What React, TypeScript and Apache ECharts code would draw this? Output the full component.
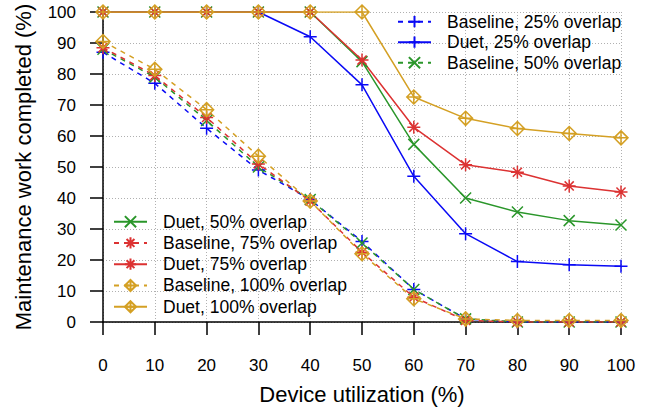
import React, { useEffect, useRef } from "react";
import * as echarts from "echarts";

const xValues = [0, 10, 20, 30, 40, 50, 60, 70, 80, 90, 100];
const baseline25 = [87, 77, 62.5, 49, 39.5, 26, 10.5, 1, 0, 0, 0];
const duet25 = [100, 100, 100, 100, 92, 76.5, 47, 28.5, 19.5, 18.5, 18];
const baseline50 = [88, 79, 65, 50, 39.5, 25.5, 10.5, 1, 0, 0, 0];
const duet50 = [100, 100, 100, 100, 100, 84, 57.3, 40, 35.5, 32.7, 31.3];
const baseline75 = [88.5, 79.5, 66, 51, 39, 22.5, 8, 0.5, 0, 0, 0];
const duet75 = [100, 100, 100, 100, 100, 84.5, 62.8, 50.7, 48.3, 43.9, 41.9];
const baseline100 = [90.5, 81.5, 68.5, 53.5, 39, 22, 7.5, 1, 0.5, 0.5, 0.5];
const duet100 = [100, 100, 100, 100, 100, 100, 72.6, 65.7, 62.4, 60.8, 59.4];

const seriesNames = [
  "Baseline, 25% overlap",
  "Duet, 25% overlap",
  "Baseline, 50% overlap",
  "Duet, 50% overlap",
  "Baseline, 75% overlap",
  "Duet, 75% overlap",
  "Baseline, 100% overlap",
  "Duet, 100% overlap",
];

const BLUE = "#0a0af5";
const GREEN = "#2a962a";
const RED = "#dc3232";
const GOLD = "#d4a024";

const PLUS = "path://M0 -1 L0 1 M-1 0 L1 0";
const CROSS = "path://M-1 -1 L1 1 M1 -1 L-1 1";
const STAR = "path://M0 -1 L0 1 M-1 0 L1 0 M-0.7 -0.7 L0.7 0.7 M0.7 -0.7 L-0.7 0.7";
const DIAMOND = "path://M0 -1 L1 0 L0 1 L-1 0 Z M0 -1 L0 1 M-1 0 L1 0";

const FONT = "Liberation Sans, Arial, sans-serif";

function mk(name: string, vals: number[], color: string, symbol: string, dashed: boolean, size: number) {
  return {
    name,
    type: "line",
    data: xValues.map((x, i) => [x, vals[i]]),
    symbol,
    symbolSize: size,
    showAllSymbol: true,
    color,
    lineStyle: { color, width: 1.5, type: dashed ? [5, 5] : "solid" },
    itemStyle: { color: "rgba(0,0,0,0)", borderColor: color, borderWidth: 1.5 },
    emphasis: { disabled: true },
  };
}

export default function App() {
  const ref = useRef<HTMLDivElement>(null);
  useEffect(() => {
    if (!ref.current) return;
    const chart = echarts.init(ref.current, undefined, { renderer: "svg" });
    const legendText = {
      fontFamily: FONT,
      fontSize: 17.5,
      color: "#000",
      padding: [0, 0, 0, 11],
    };
    chart.setOption({
      animation: false,
      textStyle: { fontFamily: FONT },
      grid: { left: 103, right: 33, top: 12, bottom: 88 },
      legend: [
        {
          data: seriesNames.slice(0, 3),
          orient: "vertical",
          left: 397,
          top: 12.7,
          padding: 0,
          itemWidth: 33,
          itemHeight: 14,
          itemGap: 2.5,
          textStyle: legendText,
          selectedMode: false,
        },
        {
          data: seriesNames.slice(3),
          orient: "vertical",
          left: 113,
          top: 212.7,
          padding: 0,
          itemWidth: 33,
          itemHeight: 14,
          itemGap: 3.25,
          textStyle: legendText,
          selectedMode: false,
        },
      ],
      xAxis: {
        type: "value",
        min: 0,
        max: 100,
        interval: 10,
        name: "Device utilization (%)",
        nameLocation: "middle",
        nameGap: 61,
        nameTextStyle: { fontSize: 22, color: "#000", fontFamily: FONT },
        axisLine: { show: true, lineStyle: { color: "#000", width: 1.5 } },
        axisTick: { show: true, length: 13, lineStyle: { color: "#000", width: 1.5 } },
        axisLabel: { fontSize: 17, color: "#000", margin: 35, fontFamily: FONT },
        splitLine: { show: true, lineStyle: { color: "#b0b0b0", type: [1, 2], width: 1 } },
      },
      yAxis: {
        type: "value",
        min: 0,
        max: 100,
        interval: 10,
        name: "Maintenance work completed (%)",
        nameLocation: "middle",
        nameGap: 69,
        nameTextStyle: { fontSize: 22, color: "#000", fontFamily: FONT },
        axisLine: { show: true, lineStyle: { color: "#000", width: 1.5 } },
        axisTick: { show: true, length: 13, lineStyle: { color: "#000", width: 1.5 } },
        axisLabel: { fontSize: 17, color: "#000", margin: 27, fontFamily: FONT },
        splitLine: { show: true, lineStyle: { color: "#b0b0b0", type: [1, 2], width: 1 } },
      },
      series: [
        mk(seriesNames[0], baseline25, BLUE, PLUS, true, 13),
        mk(seriesNames[1], duet25, BLUE, PLUS, false, 13),
        mk(seriesNames[2], baseline50, GREEN, CROSS, true, 11),
        mk(seriesNames[3], duet50, GREEN, CROSS, false, 11),
        mk(seriesNames[4], baseline75, RED, STAR, true, 13),
        mk(seriesNames[5], duet75, RED, STAR, false, 13),
        mk(seriesNames[6], baseline100, GOLD, DIAMOND, true, 14),
        mk(seriesNames[7], duet100, GOLD, DIAMOND, false, 14),
      ],
    });
    return () => chart.dispose();
  }, []);
  return <div ref={ref} style={{ width: 654, height: 410, position: "absolute", left: 0, top: 0 }} />;
}
